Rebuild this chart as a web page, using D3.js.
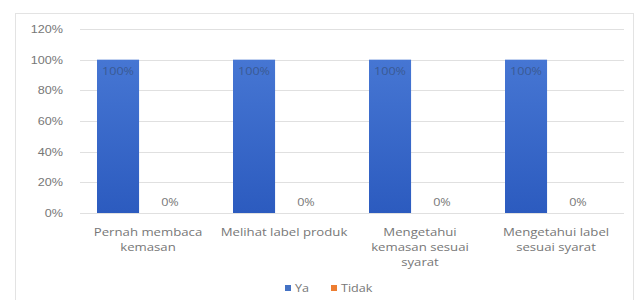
<!DOCTYPE html>
<html>
<head>
<meta charset="utf-8">
<script src="https://cdn.jsdelivr.net/npm/d3@7"></script>
<style>
  body { margin: 0; background: #fff; }
  svg { font-family: "Open Sans", "Noto Sans", sans-serif; }
</style>
</head>
<body>
<svg id="chart" width="640" height="300"></svg>
<script>
const categories = [
  ["Pernah membaca", "kemasan"],
  ["Melihat label produk"],
  ["Mengetahui", "kemasan sesuai", "syarat"],
  ["Mengetahui label", "sesuai syarat"]
]
const seriesNames = ["Ya", "Tidak"]
const yaValues = [1, 1, 1, 1]
const tidakValues = [0, 0, 0, 0]
const yTicks = [0, 0.2, 0.4, 0.6, 0.8, 1.0, 1.2]
const colors = { Ya: "#4472C4", Tidak: "#ED7D31" }

const svg = d3.select("#chart")
const textColor = "#777777"
const stretch = 1.2  // text in the picture is drawn wide

// chart frame
svg.append("rect")
  .attr("x", 15.5).attr("y", 13.5)
  .attr("width", 618).attr("height", 290)
  .attr("fill", "#fff")
  .attr("stroke", "#e3e3e3")

const defs = svg.append("defs")
const grad = defs.append("linearGradient")
  .attr("id", "blueGrad")
  .attr("x1", 0).attr("y1", 0).attr("x2", 0).attr("y2", 1)
grad.append("stop").attr("offset", "0%").attr("stop-color", "#4676d3")
grad.append("stop").attr("offset", "100%").attr("stop-color", "#2c5bbf")

const plotLeft = 80, plotRight = 624, plotTop = 29, plotBottom = 213

const x0 = d3.scaleBand()
  .domain(d3.range(categories.length))
  .range([plotLeft, plotRight])

const x1 = d3.scaleBand()
  .domain(seriesNames)
  .range([17, 111])
  .paddingInner(0.19)

const y = d3.scaleLinear()
  .domain([0, 1.2])
  .range([plotBottom, plotTop])

const pct = d3.format(".0%")

// gridlines
svg.append("g")
  .selectAll("line")
  .data(yTicks)
  .join("line")
  .attr("x1", plotLeft).attr("x2", plotRight)
  .attr("y1", d => Math.round(y(d)) + 0.5)
  .attr("y2", d => Math.round(y(d)) + 0.5)
  .attr("stroke", "#e0e0e0")

// y axis labels
const yAxis = svg.append("g")
  .attr("transform", "translate(63,0)")
  .call(d3.axisLeft(y).tickValues(yTicks).tickSize(0).tickPadding(0).tickFormat(pct))
yAxis.select(".domain").remove()
yAxis.selectAll(".tick text")
  .attr("x", 0)
  .attr("fill", textColor)
  .attr("font-size", 10.5)
  .attr("transform", `scale(${stretch},1)`)

const data = categories.map((c, i) => ({ i, Ya: yaValues[i], Tidak: tidakValues[i] }))

const groups = svg.append("g")
  .selectAll("g")
  .data(data)
  .join("g")
  .attr("transform", d => `translate(${x0(d.i)},0)`)

groups.selectAll("rect")
  .data(d => seriesNames.map(k => ({ key: k, value: d[k] })))
  .join("rect")
  .attr("x", d => x1(d.key))
  .attr("width", x1.bandwidth())
  .attr("y", d => y(d.value))
  .attr("height", d => plotBottom - y(d.value))
  .attr("fill", d => d.key === "Ya" ? "url(#blueGrad)" : colors.Tidak)

// data labels
groups.selectAll("text.val")
  .data(d => seriesNames.map(k => ({ key: k, value: d[k] })))
  .join("text")
  .attr("class", "val")
  .attr("transform", d => {
    const cx = x1(d.key) + x1.bandwidth() / 2
    const cy = d.value > 0 ? y(d.value) + 15 : y(d.value) - 7
    return `translate(${cx},${cy}) scale(${stretch},1)`
  })
  .attr("text-anchor", "middle")
  .attr("font-size", 10.5)
  .attr("fill", d => d.value > 0 ? "#3a5a94" : textColor)
  .text(d => pct(d.value))

// category labels
groups.append("text")
  .attr("transform", `translate(${x0.bandwidth() / 2},0) scale(${stretch},1)`)
  .attr("text-anchor", "middle")
  .attr("font-size", 11)
  .attr("fill", textColor)
  .selectAll("tspan")
  .data(d => categories[d.i])
  .join("tspan")
  .attr("x", 0)
  .attr("y", (d, j) => 236 + j * 15)
  .text(d => d)

// legend
const legendX = [285, 331]
const legendItems = svg.append("g")
  .attr("transform", "translate(0,292)")
  .selectAll("g")
  .data(seriesNames)
  .join("g")
  .attr("transform", (d, i) => `translate(${legendX[i]},0)`)
legendItems.append("rect")
  .attr("x", 0).attr("y", -7)
  .attr("width", 6).attr("height", 6)
  .attr("fill", d => colors[d])
legendItems.append("text")
  .attr("transform", `translate(10,0) scale(${stretch},1)`)
  .attr("font-size", 10.5)
  .attr("fill", textColor)
  .text(d => d)
</script>
</body>
</html>
